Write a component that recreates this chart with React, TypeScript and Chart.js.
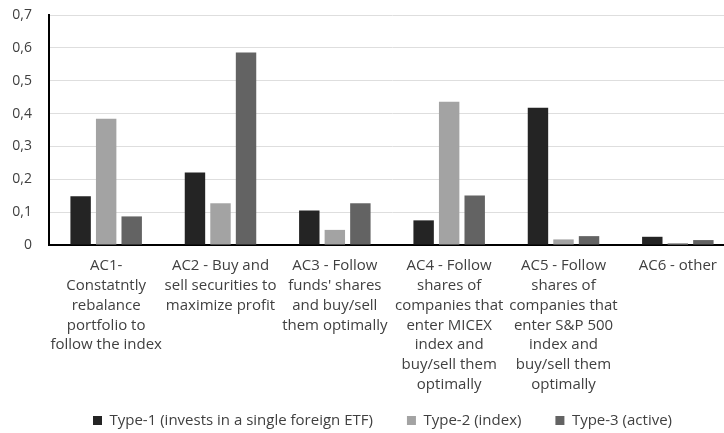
import React, { useEffect, useRef } from "react";
import { Chart, registerables } from "chart.js";

Chart.register(...registerables);

const categories: string[][] = [
  ["AC1-", "Constatntly", "rebalance", "portfolio to", "follow the index"],
  ["AC2 - Buy and", "sell securities to", "maximize profit"],
  ["AC3 - Follow", "funds' shares", "and buy/sell", "them optimally"],
  ["AC4 - Follow", "shares of", "companies that", "enter MICEX", "index and", "buy/sell them", "optimally"],
  ["AC5 - Follow", "shares of", "companies that", "enter S&P 500", "index and", "buy/sell them", "optimally"],
  ["AC6 - other"],
];

const seriesNames = [
  "Type-1 (invests in a single foreign ETF)",
  "Type-2 (index)",
  "Type-3 (active)",
];

const type1 = [0.148, 0.221, 0.105, 0.075, 0.418, 0.025];
const type2 = [0.384, 0.127, 0.046, 0.436, 0.017, 0.006];
const type3 = [0.087, 0.586, 0.127, 0.151, 0.027, 0.015];

const seriesColors = ["#242424", "#a3a3a3", "#636363"];

const yTicks = [0, 0.1, 0.2, 0.3, 0.4, 0.5, 0.6, 0.7];

const FONT = "'Open Sans', 'Liberation Sans', sans-serif";

// The plot runs slightly past the visible frame on the right,
// so the canvas is wider than its clipping container.
const VIEW_W = 724;
const VIEW_H = 433;
const CANVAS_W = 735;

// The legend shares the band below the tallest category labels,
// so it is placed after layout instead of stacking under the axis.
const LEGEND_TOP = 379;
const LEGEND_DX = 15;

const legendPlacement = {
  id: "legendPlacement",
  afterLayout(chart: any) {
    const lg = chart.legend;
    if (!lg) return;
    const dy = LEGEND_TOP - lg.top;
    lg.top += dy;
    lg.bottom += dy;
    lg.left += LEGEND_DX;
    lg.right += LEGEND_DX;
  },
};

export default function App() {
  const canvasRef = useRef<HTMLCanvasElement | null>(null);

  useEffect(() => {
    const canvas = canvasRef.current;
    if (!canvas) return;
    const chart = new Chart(canvas, {
      type: "bar",
      data: {
        labels: categories,
        datasets: [type1, type2, type3].map((values, i) => ({
          label: seriesNames[i],
          data: values,
          backgroundColor: seriesColors[i],
          borderWidth: 0,
          barPercentage: 0.8,
          categoryPercentage: 0.67,
        })),
      },
      plugins: [legendPlacement],
      options: {
        responsive: false,
        animation: false,
        devicePixelRatio: 1,
        layout: { padding: { left: 0, right: 0, top: 15, bottom: -23 } },
        plugins: {
          tooltip: { enabled: false },
          legend: {
            position: "bottom",
            labels: {
              boxWidth: 9,
              boxHeight: 9,
              padding: 34,
              color: "#404040",
              font: { family: FONT, size: 15 },
            },
          },
        },
        scales: {
          x: {
            grid: { display: false, drawTicks: false },
            border: { display: true, color: "#000000", width: 2 },
            ticks: {
              color: "#404040",
              font: { family: FONT, size: 15, lineHeight: 1.32 },
              maxRotation: 0,
              autoSkip: false,
              padding: 11,
            },
            afterFit: (axis: any) => {
              axis.height = 152;
              axis.paddingLeft = 0;
              axis.paddingRight = 0;
            },
          },
          y: {
            min: 0,
            max: 0.7,
            afterBuildTicks: (axis: any) => {
              axis.ticks = yTicks.map((v) => ({ value: v }));
            },
            afterFit: (axis: any) => {
              axis.width = 49;
              axis.paddingTop = 0;
              axis.paddingBottom = 0;
            },
            grid: { color: "#dedede", lineWidth: 1, drawTicks: false },
            border: { display: true, color: "#000000", width: 2 },
            ticks: {
              color: "#404040",
              padding: 17,
              font: { family: FONT, size: 14 },
              callback: (v: any) =>
                Number(v) === 0 ? "0" : Number(v).toFixed(1).replace(".", ","),
            },
          },
        },
      },
    });
    return () => chart.destroy();
  }, []);

  return (
    <div
      style={{
        position: "fixed",
        left: 0,
        top: 0,
        width: VIEW_W,
        height: VIEW_H,
        overflow: "hidden",
        background: "#ffffff",
      }}
    >
      <canvas ref={canvasRef} width={CANVAS_W} height={VIEW_H} style={{ display: "block" }} />
    </div>
  );
}
